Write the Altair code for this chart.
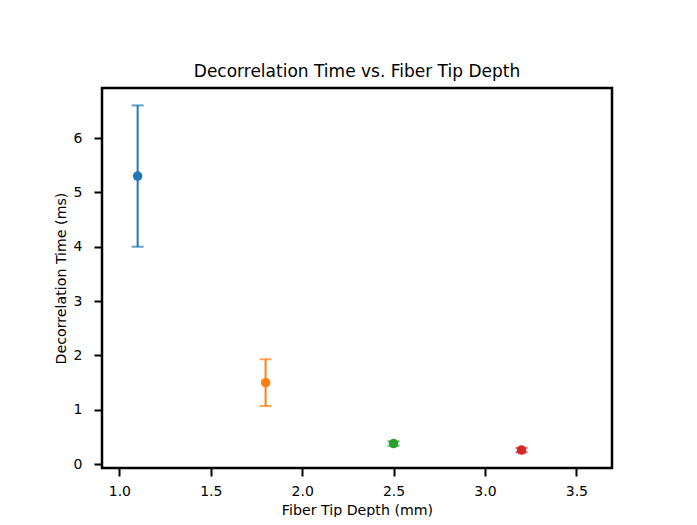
import altair as alt
import pandas as pd

depth = [1.1, 1.8, 2.5, 3.2]
decorr = [5.3, 1.5, 0.38, 0.26]
err = [1.3, 0.43, 0.04, 0.04]
series = ["a", "b", "c", "d"]
colors = ["#1f77b4", "#ff7f0e", "#2ca02c", "#d62728"]

df = pd.DataFrame({
    "depth": depth,
    "val": decorr,
    "lo": [v - e for v, e in zip(decorr, err)],
    "hi": [v + e for v, e in zip(decorr, err)],
    "s": series,
})

xs = alt.Scale(domain=[0.905, 3.695], nice=False, zero=False)
ys = alt.Scale(domain=[-0.07, 6.92], nice=False, zero=False)
cs = alt.Scale(domain=series, range=colors)

base = alt.Chart(df)

x_enc = alt.X("depth:Q", scale=xs, title="Fiber Tip Depth (mm)",
              axis=alt.Axis(values=[1.0, 1.5, 2.0, 2.5, 3.0, 3.5], format=".1f"))
y_enc_axis = alt.Axis(values=[0, 1, 2, 3, 4, 5, 6], format="d")

bars = base.mark_rule(strokeWidth=2).encode(
    x=x_enc,
    y=alt.Y("lo:Q", scale=ys, title="Decorrelation Time (ms)", axis=y_enc_axis),
    y2="hi:Q",
    color=alt.Color("s:N", scale=cs, legend=None),
)
cap_lo = base.mark_tick(orient="horizontal", size=12, thickness=2).encode(
    x=alt.X("depth:Q", scale=xs),
    y=alt.Y("lo:Q", scale=ys),
    color=alt.Color("s:N", scale=cs, legend=None),
)
cap_hi = base.mark_tick(orient="horizontal", size=12, thickness=2).encode(
    x=alt.X("depth:Q", scale=xs),
    y=alt.Y("hi:Q", scale=ys),
    color=alt.Color("s:N", scale=cs, legend=None),
)
pts = base.mark_circle(size=90, opacity=1).encode(
    x=alt.X("depth:Q", scale=xs),
    y=alt.Y("val:Q", scale=ys),
    color=alt.Color("s:N", scale=cs, legend=None),
)

chart = alt.layer(bars, cap_lo, cap_hi, pts).properties(
    width=510, height=380,
    title=alt.TitleParams("Decorrelation Time vs. Fiber Tip Depth", fontSize=17,
                          font="DejaVu Sans", fontWeight="normal", color="black",
                          offset=7),
    autosize=alt.AutoSizeParams(type="none"),
    padding={"left": 94, "top": 80, "right": 76, "bottom": 49},
).configure_view(
    stroke="black", strokeWidth=2.5
).configure_axis(
    domain=False, grid=False,
    tickColor="black", tickWidth=2, tickSize=8,
    labelFont="DejaVu Sans", labelFontSize=14, labelColor="black",
    titleFont="DejaVu Sans", titleFontSize=14.2, titleFontWeight="normal", titleColor="black",
).configure_axisY(
    labelPadding=12, titlePadding=5
).configure_axisX(
    labelPadding=8, titlePadding=5
)

chart.save("out.html", embed_options={"renderer": "svg", "actions": False})
